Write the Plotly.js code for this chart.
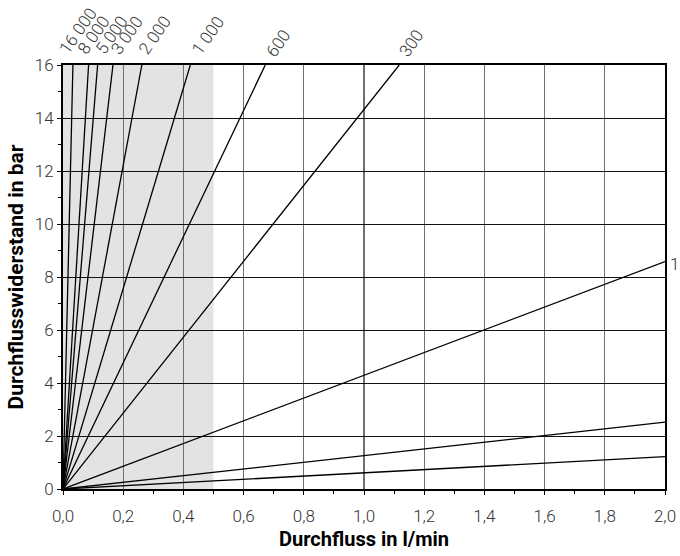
<!DOCTYPE html>
<html>
<head>
<meta charset="utf-8">
<script src="https://cdn.plot.ly/plotly-3.0.1.min.js"></script>
<style>
  html, body { margin: 0; padding: 0; overflow: hidden; background: #fff; }
  #chart { width: 680px; height: 556px; }
</style>
</head>
<body>
<div id="chart"></div>
<script>
// Viskositätskennlinien: Durchflusswiderstand über Durchfluss
const viscosityLabels = ["16 000", "8 000", "5 000", "3 000", "2 000", "1 000", "600", "300", "1", "", ""];
// Endpunkt jeder Kennlinie (Start im Ursprung)
const flowEnd     = [0.033, 0.085, 0.115, 0.166, 0.262, 0.423, 0.672, 1.117, 2.0, 2.0, 2.0];
const pressureEnd = [16, 16, 16, 16, 16, 16, 16, 16, 8.58, 2.52, 1.22];

// markierter Bereich bis 0,5 l/min
const shadedFlowMax = 0.5;

const xTicks = [0, 0.2, 0.4, 0.6, 0.8, 1.0, 1.2, 1.4, 1.6, 1.8, 2.0];
const yTicks = [0, 2, 4, 6, 8, 10, 12, 14, 16];

// Beschriftungsversatz in Pixeln je Kennlinie
const labelShiftX = [-21, -18, -9, -9, -10, -5, -6, -7, 3, 0, 0];
const labelShiftY = [5, 4, 4, 4, 4, 4, 2, 2, -2, 0, 0];

const traces = flowEnd.map((fx, i) => ({
  type: "scatter",
  mode: "lines",
  x: [0, fx],
  y: [0, pressureEnd[i]],
  line: { color: "#000", width: 1.3 },
  hoverinfo: "skip",
  showlegend: false,
  cliponaxis: true
}));

const annotations = [];
viscosityLabels.forEach((lab, i) => {
  if (!lab) return;
  const atTop = pressureEnd[i] >= 16;
  annotations.push({
    x: flowEnd[i], y: pressureEnd[i],
    xref: "x", yref: "y",
    text: lab,
    showarrow: false,
    textangle: atTop ? -55 : 0,
    xanchor: "left",
    yanchor: atTop ? "bottom" : "middle",
    xshift: labelShiftX[i],
    yshift: labelShiftY[i],
    font: { family: "Roboto", size: 17, color: "#333", weight: 300 }
  });
});

const tickFont = { family: "Roboto", size: 17, color: "#333", weight: 300 };

const layout = {
  width: 680, height: 556,
  margin: { l: 63, r: 15, t: 65, b: 67 },
  paper_bgcolor: "#fff",
  plot_bgcolor: "#fff",
  separators: ", ",
  showlegend: false,
  xaxis: {
    range: [0, 2], tickvals: xTicks, tickformat: ".1f",
    showgrid: true, gridcolor: "#707070", gridwidth: 1.4,
    zeroline: false,
    showline: true, mirror: true, linecolor: "#000", linewidth: 2,
    ticks: "outside", ticklen: 4, tickcolor: "#000", tickwidth: 1,
    minor: { dtick: 0.1, ticks: "outside", ticklen: 3, tickcolor: "#000", showgrid: false },
    tickfont: tickFont, ticklabelstandoff: 7,
    title: { text: "Durchfluss in l/min", font: { family: "Roboto", size: 20, color: "#000", weight: "bold" }, standoff: 7 },
    fixedrange: true
  },
  yaxis: {
    range: [0, 16], tickvals: yTicks, tickformat: "d",
    showgrid: true, gridcolor: "#111", gridwidth: 1,
    zeroline: false,
    showline: true, mirror: true, linecolor: "#000", linewidth: 2,
    ticks: "outside", ticklen: 4, tickcolor: "#000", tickwidth: 1,
    minor: { dtick: 1, ticks: "outside", ticklen: 3, tickcolor: "#000", showgrid: false },
    tickfont: tickFont,
    title: { text: "Durchflusswiderstand in bar", font: { family: "Roboto", size: 21, color: "#000", weight: "bold" }, standoff: 5 },
    fixedrange: true
  },
  shapes: [{
    type: "rect", xref: "x", yref: "y",
    x0: 0, x1: shadedFlowMax, y0: 0, y1: 16,
    fillcolor: "#e3e3e3", line: { width: 0 }, layer: "below"
  }],
  annotations: annotations
};

Plotly.newPlot("chart", traces, layout, { staticPlot: true, displayModeBar: false });
</script>
</body>
</html>
